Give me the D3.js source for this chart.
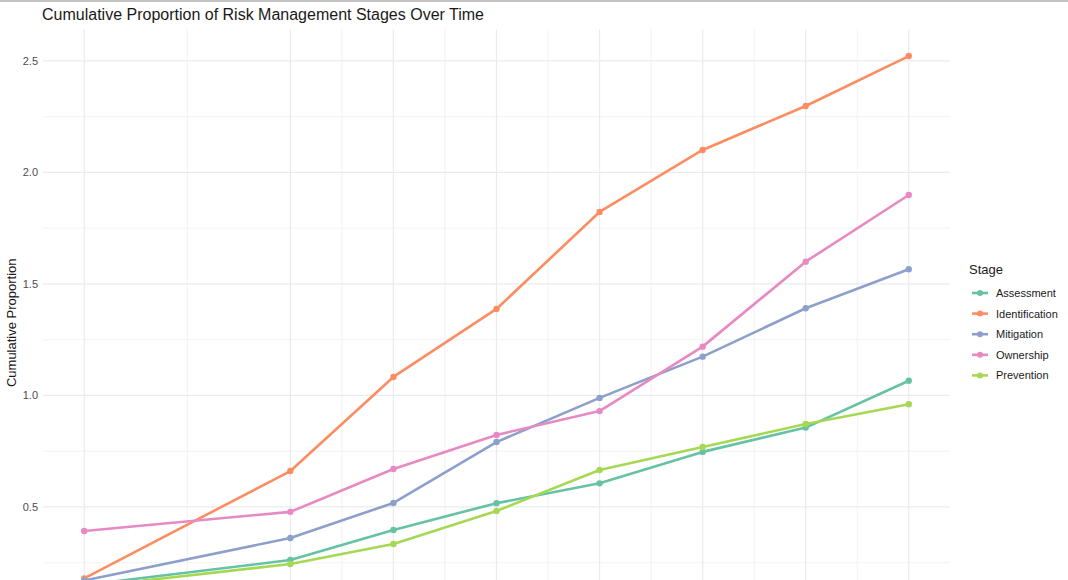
<!DOCTYPE html>
<html>
<head>
<meta charset="utf-8">
<script src="https://cdn.jsdelivr.net/npm/d3@7"></script>
<style>
  html, body { margin: 0; padding: 0; background: #ffffff; overflow: hidden; }
  svg { display: block; font-family: "Liberation Sans", Arial, sans-serif; }
</style>
</head>
<body>
<svg id="chart" width="1068" height="700"></svg>
<script>
// ---- data ----
const timePoints = [0, 2, 3, 4, 5, 6, 7, 8];
const stages = ["Assessment", "Identification", "Mitigation", "Ownership", "Prevention"];
const assessment     = [0.15, 0.262, 0.397, 0.517, 0.606, 0.747, 0.856, 1.066];
const identification = [0.18, 0.661, 1.083, 1.388, 1.823, 2.101, 2.298, 2.522];
const mitigation     = [0.17, 0.361, 0.518, 0.791, 0.989, 1.174, 1.391, 1.566];
const ownership      = [0.392, 0.478, 0.670, 0.823, 0.930, 1.219, 1.600, 1.899];
const prevention     = [0.14, 0.244, 0.334, 0.482, 0.666, 0.769, 0.872, 0.961];
const yTicks = [0.5, 1.0, 1.5, 2.0, 2.5];
const stageColors = ["#66C2A5", "#FC8D62", "#8DA0CB", "#E78AC3", "#A6D854"];

const seriesValues = [assessment, identification, mitigation, ownership, prevention];
const series = stages.map((s, i) => ({
  name: s, color: stageColors[i],
  points: timePoints.map((t, j) => ({ t, v: seriesValues[i][j] }))
}));

const svg = d3.select("#chart");

// thin grey frame edge at the top of the picture
svg.append("rect").attr("x", 0).attr("y", 0).attr("width", 1068).attr("height", 2).attr("fill", "#c4c4c4");

// ---- scales (ggplot-style 5% expansion) ----
const xMin = d3.min(timePoints), xMax = d3.max(timePoints);
const xPad = (xMax - xMin) * 0.05;
const allV = seriesValues.flat();
const vMin = d3.min(allV), vMax = d3.max(allV);
const vPad = (vMax - vMin) * 0.05;

const panelLeft = 43, panelRight = 950, panelTop = 29.5;
const pxPerUnit = 223;
const panelBottom = panelTop + (vMax + vPad - (vMin - vPad)) * pxPerUnit;

const x = d3.scaleLinear().domain([xMin - xPad, xMax + xPad]).range([panelLeft, panelRight]);
const y = d3.scaleLinear().domain([vMin - vPad, vMax + vPad]).range([panelBottom, panelTop]);

// ---- gridlines ----
const grid = svg.append("g");
const yMinor = [];
for (let i = 0; i < yTicks.length; i++) yMinor.push(yTicks[i] - 0.25);
yMinor.push(yTicks[yTicks.length - 1] + 0.25);
const yMinorIn = yMinor.filter(v => v > y.domain()[0] && v < y.domain()[1]);
const xMinor = [];
for (let i = 0; i < timePoints.length - 1; i++) xMinor.push((timePoints[i] + timePoints[i + 1]) / 2);

grid.selectAll(".ymin").data(yMinorIn).join("line")
  .attr("x1", panelLeft).attr("x2", panelRight)
  .attr("y1", d => y(d)).attr("y2", d => y(d))
  .attr("stroke", "#efefef").attr("stroke-width", 0.8);
grid.selectAll(".xmin").data(xMinor).join("line")
  .attr("y1", panelTop).attr("y2", panelBottom)
  .attr("x1", d => x(d)).attr("x2", d => x(d))
  .attr("stroke", "#efefef").attr("stroke-width", 0.8);
grid.selectAll(".ymaj").data(yTicks).join("line")
  .attr("x1", panelLeft).attr("x2", panelRight)
  .attr("y1", d => y(d)).attr("y2", d => y(d))
  .attr("stroke", "#ebebeb").attr("stroke-width", 1.2);
grid.selectAll(".xmaj").data(timePoints).join("line")
  .attr("y1", panelTop).attr("y2", panelBottom)
  .attr("x1", d => x(d)).attr("x2", d => x(d))
  .attr("stroke", "#ebebeb").attr("stroke-width", 1.2);

// ---- y axis ----
const yAxis = d3.axisLeft(y).tickValues(yTicks).tickFormat(d3.format(".1f")).tickSize(0).tickPadding(5);
const ya = svg.append("g").attr("transform", `translate(${panelLeft},0)`).call(yAxis);
ya.select(".domain").remove();
ya.selectAll("text").attr("fill", "#4d4d4d").attr("font-size", "11px");

svg.append("text")
  .attr("transform", `translate(16,${(panelTop + 580) / 2 + 18}) rotate(-90)`)
  .attr("text-anchor", "middle")
  .attr("font-size", "13px").attr("fill", "#1a1a1a")
  .text("Cumulative Proportion");

// ---- title ----
svg.append("text").attr("x", 42).attr("y", 20)
  .attr("font-size", "16px").attr("fill", "#1a1a1a")
  .text("Cumulative Proportion of Risk Management Stages Over Time");

// ---- lines & points ----
const line = d3.line().x(d => x(d.t)).y(d => y(d.v));
const g = svg.append("g");
series.forEach(s => {
  g.append("path").datum(s.points)
    .attr("d", line).attr("fill", "none")
    .attr("stroke", s.color).attr("stroke-width", 2.6)
    .attr("stroke-linejoin", "round");
  g.selectAll(null).data(s.points).join("circle")
    .attr("cx", d => x(d.t)).attr("cy", d => y(d.v)).attr("r", 3.2)
    .attr("fill", s.color);
});

// ---- legend ----
const lg = svg.append("g").attr("transform", "translate(969,0)");
lg.append("text").attr("x", 0).attr("y", 274).attr("font-size", "13px").attr("fill", "#1a1a1a").text("Stage");
series.forEach((s, i) => {
  const cy = 293 + i * 20.6;
  lg.append("line").attr("x1", 3).attr("x2", 19).attr("y1", cy).attr("y2", cy)
    .attr("stroke", s.color).attr("stroke-width", 2.6);
  lg.append("circle").attr("cx", 11).attr("cy", cy).attr("r", 3).attr("fill", s.color);
  lg.append("text").attr("x", 27).attr("y", cy + 4).attr("font-size", "11px").attr("fill", "#1a1a1a").text(s.name);
});
</script>
</body>
</html>
